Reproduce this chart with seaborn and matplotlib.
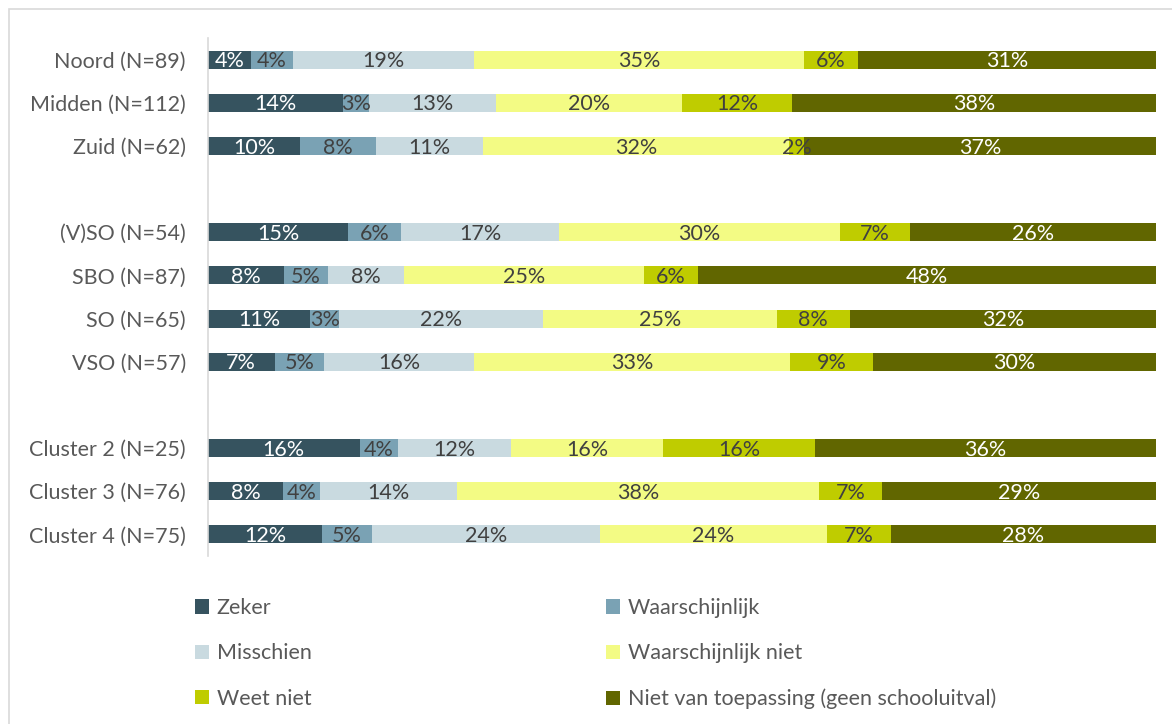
import matplotlib
matplotlib.use('Agg')
import matplotlib.pyplot as plt
import pandas as pd
import seaborn as sns
from matplotlib.patches import Patch, Rectangle

# Data (percentages)
groups = ['Noord (N=89)', 'Midden (N=112)', 'Zuid (N=62)',
          '(V)SO (N=54)', 'SBO (N=87)', 'SO (N=65)', 'VSO (N=57)',
          'Cluster 2 (N=25)', 'Cluster 3 (N=76)', 'Cluster 4 (N=75)']
categories = ['Zeker', 'Waarschijnlijk', 'Misschien', 'Waarschijnlijk niet',
              'Weet niet', 'Niet van toepassing (geen schooluitval)']

zeker = [4.49, 14.29, 9.68, 14.81, 8.05, 10.77, 7.02, 16.0, 7.89, 12.0]
waarschijnlijk = [4.49, 2.68, 8.06, 5.56, 4.60, 3.08, 5.26, 4.0, 3.95, 5.33]
misschien = [19.10, 13.39, 11.29, 16.67, 8.05, 21.54, 15.79, 12.0, 14.47, 24.0]
waarschijnlijk_niet = [34.83, 19.64, 32.26, 29.63, 25.29, 24.62, 33.33, 16.0, 38.16, 24.0]
weet_niet = [5.62, 11.61, 1.61, 7.41, 5.75, 7.69, 8.77, 16.0, 6.58, 6.67]
niet_van_toepassing = [31.46, 38.39, 37.10, 25.93, 48.28, 32.31, 29.82, 36.0, 28.95, 28.0]

series = [zeker, waarschijnlijk, misschien, waarschijnlijk_niet, weet_niet, niet_van_toepassing]
colors = ['#36535f', '#7aa2b4', '#c9dae0', '#f3fb84', '#bfcc00', '#616600']
text_colors = ['white', '#404040', '#404040', '#404040', '#404040', 'white']

# order with blank spacer rows between the three blocks
order = groups[:3] + [' '] + groups[3:7] + ['  '] + groups[7:]

rows = []
for cat, vals in zip(categories, series):
    for g, v in zip(groups, vals):
        rows.append({'group': g, 'category': cat, 'value': v})
df = pd.DataFrame(rows)
df['cum'] = df.groupby('group')['value'].cumsum()
df['left'] = df['cum'] - df['value']

plt.rcParams['font.family'] = ['Lato', 'DejaVu Sans']
FS = 15.5
fig = plt.figure(figsize=(11.72, 7.24), dpi=100)
ax = fig.add_axes([208 / 1172, 1 - 556 / 724, (1156 - 208) / 1172, (556 - 38) / 724])

# stacked bars: draw cumulative totals from the last category to the first
for cat, col in reversed(list(zip(categories, colors))):
    sub = df[df['category'] == cat]
    sns.barplot(data=sub, x='cum', y='group', order=order, color=col,
                saturation=1, width=0.42, orient='h', ax=ax, errorbar=None)

ypos = {g: i for i, g in enumerate(order)}
for cat, tcol in zip(categories, text_colors):
    sub = df[df['category'] == cat]
    for _, r in sub.iterrows():
        ax.text(r['left'] + r['value'] / 2, ypos[r['group']] + 0.04,
                f"{r['value']:.0f}%", ha='center', va='center',
                color=tcol, fontsize=FS)

ax.set_xlim(0, 100)
ax.set_ylim(len(order) - 0.5, -0.5)
ax.set_xlabel('')
ax.set_ylabel('')
ax.set_xticks([])
for s in ['top', 'right', 'bottom']:
    ax.spines[s].set_visible(False)
ax.spines['left'].set_color('#d9d9d9')
ax.spines['left'].set_linewidth(1.2)
ax.tick_params(axis='y', length=0, pad=16, labelsize=FS, labelcolor='#595959')

# legend laid out in two columns, row by row as in the original
handles = [Patch(facecolor=c, edgecolor='none') for c in colors]
leg_order = [0, 2, 4, 1, 3, 5]
fig.legend([handles[i] for i in leg_order], [categories[i] for i in leg_order],
           ncol=2, loc='upper left', bbox_to_anchor=(195 / 1172, 1 - 598 / 724),
           frameon=False, fontsize=FS, labelcolor='#595959',
           handlelength=0.65, handleheight=0.65, handletextpad=0.35,
           labelspacing=1.18, columnspacing=13.7, borderpad=0, borderaxespad=0)

# thin grey frame around the chart area
fig.patches.append(Rectangle((9 / 1172, -0.05), 1.1, 1.05 - 9 / 724,
                             transform=fig.transFigure, fill=False,
                             edgecolor='#d9d9d9', linewidth=1.2))

fig.savefig('out.png', dpi=100)
